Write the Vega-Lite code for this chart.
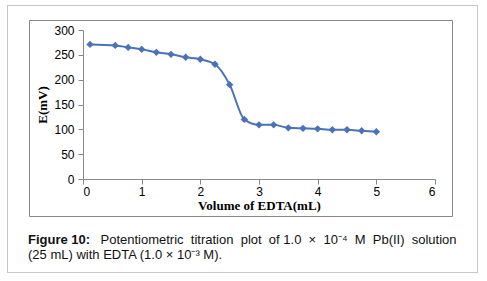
{
  "$schema": "https://vega.github.io/schema/vega-lite/v6.json",
  "width": 423,
  "height": 196,
  "autosize": {"type": "none"},
  "padding": {"left": 29, "top": 20, "right": 35, "bottom": 65},
  "background": "white",
  "config": {
    "view": {"stroke": "#888888", "strokeWidth": 1}
  },
  "datasets": {
    "titration": [
      {"volume": 0.12, "E": 271},
      {"volume": 0.55, "E": 269},
      {"volume": 0.77, "E": 265},
      {"volume": 1.0, "E": 261},
      {"volume": 1.25, "E": 255},
      {"volume": 1.5, "E": 251},
      {"volume": 1.75, "E": 245},
      {"volume": 2.0, "E": 241},
      {"volume": 2.25, "E": 231},
      {"volume": 2.5, "E": 190},
      {"volume": 2.75, "E": 120},
      {"volume": 3.0, "E": 109},
      {"volume": 3.25, "E": 109},
      {"volume": 3.5, "E": 103},
      {"volume": 3.75, "E": 102},
      {"volume": 4.0, "E": 101},
      {"volume": 4.25, "E": 99},
      {"volume": 4.5, "E": 99},
      {"volume": 4.75, "E": 97},
      {"volume": 5.0, "E": 95}
    ],
    "box": [
      {"xa": 0, "xb": 1, "ya": 1, "yb": 1},
      {"xa": 0, "xb": 1, "ya": 0, "yb": 0},
      {"xa": 0, "xb": 0, "ya": 0, "yb": 1},
      {"xa": 1, "xb": 1, "ya": 0, "yb": 1}
    ]
  },
  "title": {
    "text": "Figure 10:",
    "subtitle": "(25 mL) with EDTA (1.0 × 10⁻³ M).",
    "orient": "bottom",
    "anchor": "start",
    "frame": "group",
    "offset": -39,
    "dx": -1,
    "font": "Liberation Sans",
    "fontSize": 13,
    "fontWeight": "bold",
    "color": "#111111",
    "subtitleFont": "Liberation Sans",
    "subtitleFontSize": 13,
    "subtitleFontWeight": "normal",
    "subtitleColor": "#111111",
    "subtitlePadding": 1.5
  },
  "layer": [
    {
      "data": {"name": "box"},
      "mark": {"type": "rect", "fill": "#c8c8c8", "x2Offset": 1, "y2Offset": 1},
      "encoding": {
        "x": {
          "field": "xa",
          "type": "quantitative",
          "scale": {"domain": [0, 1], "range": [-22, 448], "nice": false, "zero": false},
          "axis": {
            "orient": "bottom",
            "offset": 17,
            "domain": false,
            "ticks": false,
            "labels": false,
            "grid": false,
            "title": "Potentiometric\u00a0 titration\u00a0 plot\u00a0 of 1.0\u00a0 ×\u00a0 10⁻⁴\u00a0 M\u00a0 Pb(II)\u00a0 solution",
            "titleAnchor": "start",
            "titleAlign": "left",
            "titleX": 71,
            "titlePadding": 0,
            "titleFont": "Liberation Sans",
            "titleFontSize": 13,
            "titleFontWeight": "normal",
            "titleColor": "#111111"
          }
        },
        "x2": {"field": "xb"},
        "y": {
          "field": "ya",
          "type": "quantitative",
          "scale": {"domain": [0, 1], "range": [252, -15], "nice": false, "zero": false},
          "axis": null
        },
        "y2": {"field": "yb"}
      }
    },
    {
      "data": {"name": "titration"},
      "mark": {
        "type": "line",
        "interpolate": "monotone",
        "color": "#4a72b9",
        "strokeWidth": 2,
        "point": {"shape": "diamond", "size": 55, "filled": true, "color": "#4a72b9", "opacity": 1}
      },
      "encoding": {
        "x": {
          "field": "volume",
          "type": "quantitative",
          "scale": {"domain": [0, 6], "range": [54, 406], "nice": false, "zero": false},
          "axis": {
            "orient": "bottom",
            "offset": -37,
            "values": [0, 1, 2, 3, 4, 5, 6],
            "grid": false,
            "title": "Volume of EDTA(mL)",
            "titleFont": "Liberation Serif",
            "titleFontWeight": "bold",
            "titleFontSize": 13,
            "titleColor": "black",
            "titlePadding": 2,
            "labelFont": "Liberation Sans",
            "labelFontSize": 12,
            "labelColor": "black",
            "labelPadding": 2,
            "domainColor": "#888888",
            "tickColor": "#888888",
            "tickSize": 5
          }
        },
        "y": {
          "field": "E",
          "type": "quantitative",
          "scale": {"domain": [0, 300], "range": [159, 10], "nice": false, "zero": false},
          "axis": {
            "orient": "left",
            "offset": -54,
            "values": [0, 50, 100, 150, 200, 250, 300],
            "grid": false,
            "title": "E(mV)",
            "titleFont": "Liberation Serif",
            "titleFontWeight": "bold",
            "titleFontSize": 13,
            "titleColor": "black",
            "titlePadding": 4,
            "labelFont": "Liberation Sans",
            "labelFontSize": 12,
            "labelColor": "black",
            "labelPadding": 4,
            "domainColor": "#888888",
            "tickColor": "#888888",
            "tickSize": 5
          }
        }
      }
    }
  ],
  "resolve": {
    "scale": {"x": "independent", "y": "independent"},
    "axis": {"x": "independent", "y": "independent"}
  }
}
